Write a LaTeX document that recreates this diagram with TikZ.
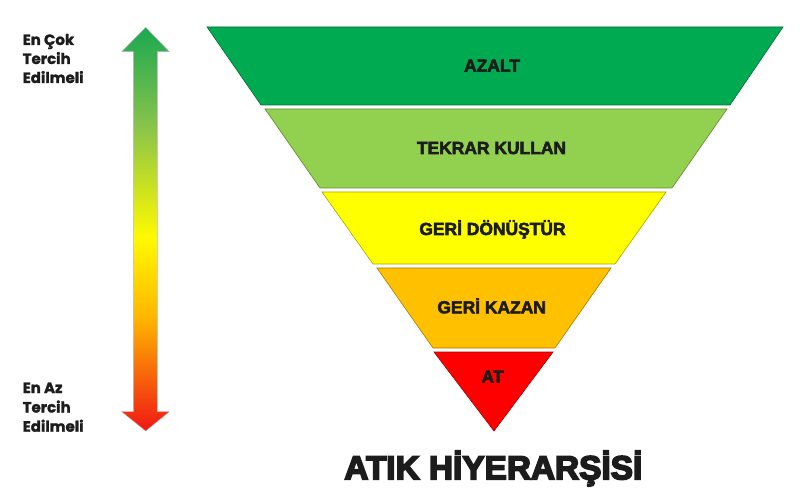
\documentclass[tikz,border=0pt]{standalone}
\usepackage{fontspec}
\setmainfont{Liberation Sans}
\newfontfamily\bandfont{Liberation Sans}[BoldFeatures={FakeBold=3}]
\newfontfamily\ttlfont{Liberation Sans}[BoldFeatures={FakeBold=5}]
\newfontfamily\sidefont{Poppins}[BoldFeatures={FakeBold=1.5}]
\definecolor{cA}{RGB}{0,170,80}
\definecolor{cB}{RGB}{146,208,80}
\definecolor{cC}{RGB}{255,255,0}
\definecolor{cD}{RGB}{255,192,0}
\definecolor{cE}{RGB}{255,0,0}
\definecolor{txt}{RGB}{28,28,28}
\definecolor{gA}{RGB}{25,168,80}
\definecolor{gB}{RGB}{135,195,75}
\definecolor{gC}{RGB}{255,250,0}
\definecolor{gD}{RGB}{255,180,0}
\definecolor{gE}{RGB}{240,20,20}
\tikzset{
  band/.style={draw=#1!65!black, fill=#1, line width=0.6bp, line join=miter},
  bandlbl/.style={anchor=base, inner sep=0pt, text=txt, font=\bandfont\bfseries\fontsize{17.5}{20}\selectfont},
  sidelbl/.style={anchor=base west, inner sep=0pt, text=txt, font=\sidefont\bfseries\fontsize{15}{18}\selectfont},
  ttl/.style={anchor=base, inner sep=0pt, text=txt, font=\ttlfont\bfseries\fontsize{33.5}{38}\selectfont}
}
\begin{document}
\begin{tikzpicture}[x=1bp,y=-1bp]
\useasboundingbox (0,0) rectangle (800,500);
\fill[white] (0,0) rectangle (800,500);
% pyramid bands
\draw[band=cA] (207,27) -- (783,27) -- (730,105) -- (261,105) -- cycle;
\draw[band=cB] (265,109) -- (727,109) -- (672,188) -- (320,188) -- cycle;
\draw[band=cC] (322,192) -- (666,192) -- (615,264) -- (373,264) -- cycle;
\draw[band=cD] (377,268) -- (611,268) -- (555,348) -- (433,348) -- cycle;
\draw[band=cE] (434,352) -- (553,352) -- (494,431) -- cycle;
% band labels
\node[bandlbl] (azalt) at (492,71.7) {AZALT};
\node[bandlbl] (tekrar) at (491.5,154) {TEKRAR KULLAN};
\node[bandlbl] (geridon) at (492.5,235) {GERİ DÖNÜŞTÜR};
\node[bandlbl] (gerikaz) at (491.7,313.3) {GERİ KAZAN};
\node[bandlbl] (at) at (492.5,382.7) {AT};
% title
\node[ttl] (title) at (493.3,479.3) {ATIK HİYERARŞİSİ};
% gradient arrow
\begin{scope}
\clip (145.7,27.3) -- (169.3,51.7) -- (157.3,51.7) -- (157.3,411.7) -- (169.3,411.7) -- (145.7,431) -- (121.7,411.7) -- (133.3,411.7) -- (133.3,51.7) -- (121.7,51.7) -- cycle;
\shade[top color=gA, bottom color=gB] (120,26) rectangle (171,125);
\shade[top color=gB, bottom color=gC] (120,124.5) rectangle (171,237);
\shade[top color=gC, bottom color=gD] (120,236.5) rectangle (171,320);
\shade[top color=gD, bottom color=gE] (120,319.5) rectangle (171,433);
\end{scope}
\draw[gray!55, line width=0.4bp, line join=miter] (145.7,27.3) -- (169.3,51.7) -- (157.3,51.7) -- (157.3,411.7) -- (169.3,411.7) -- (145.7,431) -- (121.7,411.7) -- (133.3,411.7) -- (133.3,51.7) -- (121.7,51.7) -- cycle;
% side labels
\node[sidelbl] (t1) at (22.5,45) {En Çok};
\node[sidelbl] (t2) at (22.5,64) {Tercih};
\node[sidelbl] (t3) at (22.5,83) {Edilmeli};
\node[sidelbl] (b1) at (22.5,393) {En Az};
\node[sidelbl] (b2) at (22.5,412.5) {Tercih};
\node[sidelbl] (b3) at (22.5,431.7) {Edilmeli};
\end{tikzpicture}
\end{document}
